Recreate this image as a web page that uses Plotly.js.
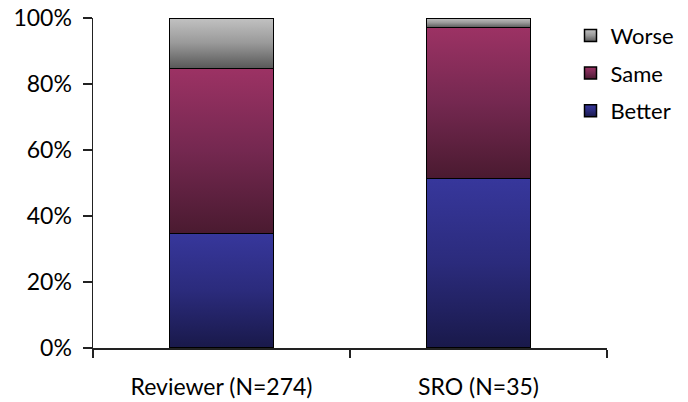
<!DOCTYPE html>
<html>
<head>
<meta charset="utf-8">
<script src="https://cdn.plot.ly/plotly-3.0.1.min.js"></script>
<style>
  html, body { margin: 0; padding: 0; background: #fff; }
  #chart { width: 688px; height: 402px; }
</style>
</head>
<body>
<div id="chart"></div>
<script>
// Respondent groups and the share (%) of answers in each rating
const groups = ['Reviewer (N=274)', 'SRO (N=35)'];
const better = [34.7, 51.4];
const same   = [50.0, 45.7];
const worse  = [15.3, 2.9];

const seriesNames = ['Better', 'Same', 'Worse'];
const seriesValues = [better, same, worse];
// legend lists the top segment first
const legendRanks = [3, 2, 1];

// top-to-bottom gradient stops for each rating
const gradients = {
  Better: ['#37379c', '#2b2b7c', '#19194a'],
  Same:   ['#9c3264', '#742850', '#4a1a30'],
  Worse:  ['#c2c2c2', '#999999', '#585858']
};

const traces = seriesNames.map((name, i) => ({
  type: 'bar',
  name: name,
  x: groups,
  y: seriesValues[i],
  legendgroup: name,
  legendrank: legendRanks[i],
  marker: {
    color: gradients[name][1],
    line: { color: '#000', width: 1.5 }
  },
  hoverinfo: 'x+y+name'
}));

const layout = {
  width: 688,
  height: 402,
  barmode: 'stack',
  bargap: 0.595,
  paper_bgcolor: '#fff',
  plot_bgcolor: '#fff',
  font: { family: 'Lato, "DejaVu Sans", sans-serif', size: 23, color: '#000' },
  margin: { l: 93, r: 81, t: 18, b: 54, pad: 0, autoexpand: false },
  xaxis: {
    type: 'category',
    showline: true,
    linecolor: '#222',
    linewidth: 1.5,
    ticks: 'outside',
    tickson: 'boundaries',
    ticklen: 8,
    tickwidth: 1.5,
    tickcolor: '#222',
    ticklabelstandoff: 18,
    showgrid: false,
    zeroline: false,
    tickfont: { size: 23 }
  },
  yaxis: {
    range: [0, 100],
    tick0: 0,
    dtick: 20,
    ticksuffix: '%',
    showline: true,
    linecolor: '#222',
    linewidth: 1.5,
    ticks: 'outside',
    ticklen: 9,
    tickwidth: 1.5,
    tickcolor: '#222',
    ticklabelstandoff: 6,
    showgrid: false,
    zeroline: false,
    tickfont: { size: 23 }
  },
  legend: {
    x: 0.929,
    xanchor: 'left',
    y: 1.01,
    yanchor: 'top',
    traceorder: 'grouped',
    tracegroupgap: 6,
    bgcolor: 'rgba(0,0,0,0)',
    font: { size: 22 }
  },
  showlegend: true
};

// Vertical gradient fills for the bar segments and legend swatches
function applyGradients(gd) {
  const svg = gd.querySelector('svg.main-svg');
  if (!svg) return;
  let defs = svg.querySelector('defs');
  if (!defs) {
    defs = document.createElementNS('http://www.w3.org/2000/svg', 'defs');
    svg.insertBefore(defs, svg.firstChild);
  }
  seriesNames.forEach(name => {
    const id = 'grad-' + name;
    if (defs.querySelector('#' + id)) return;
    const lg = document.createElementNS('http://www.w3.org/2000/svg', 'linearGradient');
    lg.setAttribute('id', id);
    lg.setAttribute('x1', '0'); lg.setAttribute('y1', '0');
    lg.setAttribute('x2', '0'); lg.setAttribute('y2', '1');
    const stops = gradients[name];
    stops.forEach((c, k) => {
      const s = document.createElementNS('http://www.w3.org/2000/svg', 'stop');
      s.setAttribute('offset', (k / (stops.length - 1) * 100) + '%');
      s.setAttribute('stop-color', c);
      lg.appendChild(s);
    });
    defs.appendChild(lg);
  });
  gd.querySelectorAll('.barlayer .trace').forEach((tr, i) => {
    const name = seriesNames[i];
    tr.querySelectorAll('path').forEach(p => { p.style.fill = 'url(#grad-' + name + ')'; });
  });
  gd.querySelectorAll('.legend .traces').forEach(t => {
    const txt = t.querySelector('.legendtext');
    if (!txt) return;
    const name = txt.textContent.trim();
    if (!gradients[name]) return;
    t.querySelectorAll('.legendpoints path').forEach(p => { p.style.fill = 'url(#grad-' + name + ')'; });
  });
}

const gd = document.getElementById('chart');
Plotly.newPlot(gd, traces, layout, { displayModeBar: false, staticPlot: true }).then(() => {
  applyGradients(gd);
  gd.on('plotly_afterplot', () => applyGradients(gd));
});
</script>
</body>
</html>
